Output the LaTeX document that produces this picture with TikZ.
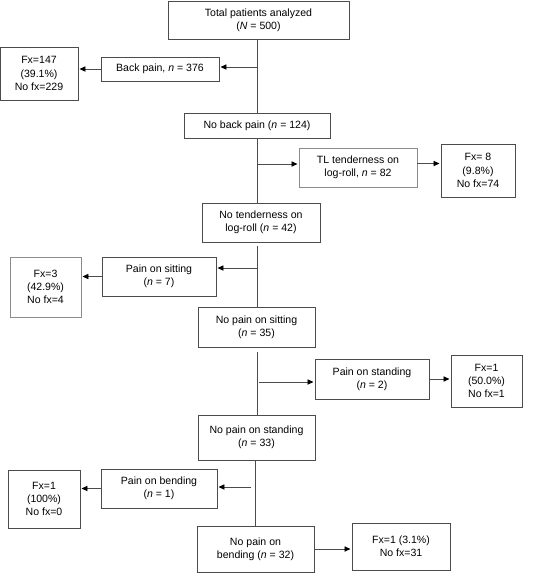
\documentclass[tikz,border=0pt]{standalone}
\usepackage{fontspec}
\setmainfont{Liberation Sans}
\usepackage{tikz}
\usetikzlibrary{calc, arrows.meta}

\newcommand{\nn}{\textit{n}}

\begin{document}
\begin{tikzpicture}[
        font=\fontsize{9}{11.3}\selectfont,
        box/.style={rectangle, draw=black!70, line width=0.7pt, align=center, inner sep=1pt},
        line/.style={draw=black!70, line width=0.7pt},
        arr/.style={line, -{Triangle[length=5pt, width=4.5pt, color=black]}, shorten >=1pt}
    ]
    \useasboundingbox (-7.71,0) rectangle (8.43,-17.19);

    \node[box, minimum width=5.43cm, minimum height=1.14cm] (total) at (0.045,-0.6) {Total patients analyzed\\(\textit{N} = 500)};
    \node[box, minimum width=3.54cm, minimum height=0.72cm] (back)  at (-2.91,-2.07) {Back pain, \nn{} = 376};
    \node[box, minimum width=2.34cm, minimum height=1.59cm] (fxa)   at (-6.54,-2.205) {Fx=147\\(39.1\%)\\No fx=229};
    \node[box, minimum width=4.38cm, minimum height=0.75cm] (nobp)  at (0,-3.765) {No back pain (\nn{} = 124)};
    \node[box, minimum width=3.54cm, minimum height=1.17cm, draw=black!45] (tl) at (3.03,-5.025) {TL tenderness on\\log-roll, \nn{} = 82};
    \node[box, minimum width=2.22cm, minimum height=1.59cm] (fxb)   at (6.63,-5.115) {Fx= 8\\(9.8\%)\\No fx=74};
    \node[box, minimum width=3.54cm, minimum height=1.17cm] (noten) at (0.12,-6.675) {No tenderness on\\log-roll (\nn{} = 42)};
    \node[box, minimum width=3.42cm, minimum height=1.17cm] (sit)   at (-2.94,-8.295) {Pain on sitting\\(\nn{} = 7)};
    \node[box, minimum width=2.13cm, minimum height=1.8cm, draw=black!45] (fxc) at (-6.345,-8.61) {Fx=3\\(42.9\%)\\No fx=4};
    \node[box, minimum width=3.51cm, minimum height=1.2cm]  (nosit) at (-0.015,-9.81) {No pain on sitting\\(\nn{} = 35)};
    \node[box, minimum width=3.42cm, minimum height=1.2cm]  (stand) at (3.45,-11.37) {Pain on standing\\(\nn{} = 2)};
    \node[box, minimum width=2.13cm, minimum height=1.56cm] (fxd)   at (6.885,-11.43) {Fx=1\\(50.0\%)\\No fx=1};
    \node[box, minimum width=3.51cm, minimum height=1.35cm] (nostand) at (-0.015,-13.125) {No pain on standing\\(\nn{} = 33)};
    \node[box, minimum width=3.48cm, minimum height=1.17cm] (bend)  at (-2.94,-14.655) {Pain on bending\\(\nn{} = 1)};
    \node[box, minimum width=2.16cm, minimum height=1.74cm] (fxe)   at (-6.39,-14.97) {Fx=1\\(100\%)\\No fx=0};
    \node[box, minimum width=3.51cm, minimum height=1.38cm] (nobend) at (-0.045,-16.47) {No pain on\\bending (\nn{} = 32)};
    \node[box, minimum width=2.94cm, minimum height=1.41cm] (fxf)   at (4.32,-16.395) {Fx=1 (3.1\%)\\No fx=31};

    % branch points on the main line
    \coordinate (ja) at (0,-2.01);
    \coordinate (jb) at (0,-4.92);
    \coordinate (jc) at (0,-8.04);
    \coordinate (jd) at (0.06,-11.46);
    \coordinate (je) at (-0.18,-14.61);

    \draw[line] (nobp.north |- total.south) -- (nobp.north);
    \draw[line] (nobp.south) -- (nobp.south |- noten.north);
    \draw[line] ($(noten.south -| nobp)+(0,-0.12)$) -- (nosit.north -| nobp);
    \draw[line] ($(nosit.south -| nobp)+(0,-0.15)$) -- (nostand.north -| nobp);
    \draw[line] ($(nostand.south)+(-0.045,0)$) -- ($(nobend.north)+(-0.015,0)$);

    \draw[arr] (ja) -- (ja -| back.east);
    \draw[arr] (back.west) -- (back.west -| fxa.east);
    \draw[arr] (jb) -- (jb -| tl.west);
    \draw[arr] ($(tl.east)+(0,0.12)$) -- ($(tl.east -| fxb.west)+(0,0.12)$);
    \draw[arr] (jc) -- (jc -| sit.east);
    \draw[arr] (sit.west) -- (sit.west -| fxc.east);
    \draw[arr] (jd) -- (jd -| stand.west);
    \draw[arr] (stand.east) -- (stand.east -| fxd.west);
    \draw[arr] (je) -- (je -| bend.east);
    \draw[arr] (bend.west) -- (bend.west -| fxe.east);
    \draw[arr] (nobend.east) -- (nobend.east -| fxf.west);
\end{tikzpicture}
\end{document}
